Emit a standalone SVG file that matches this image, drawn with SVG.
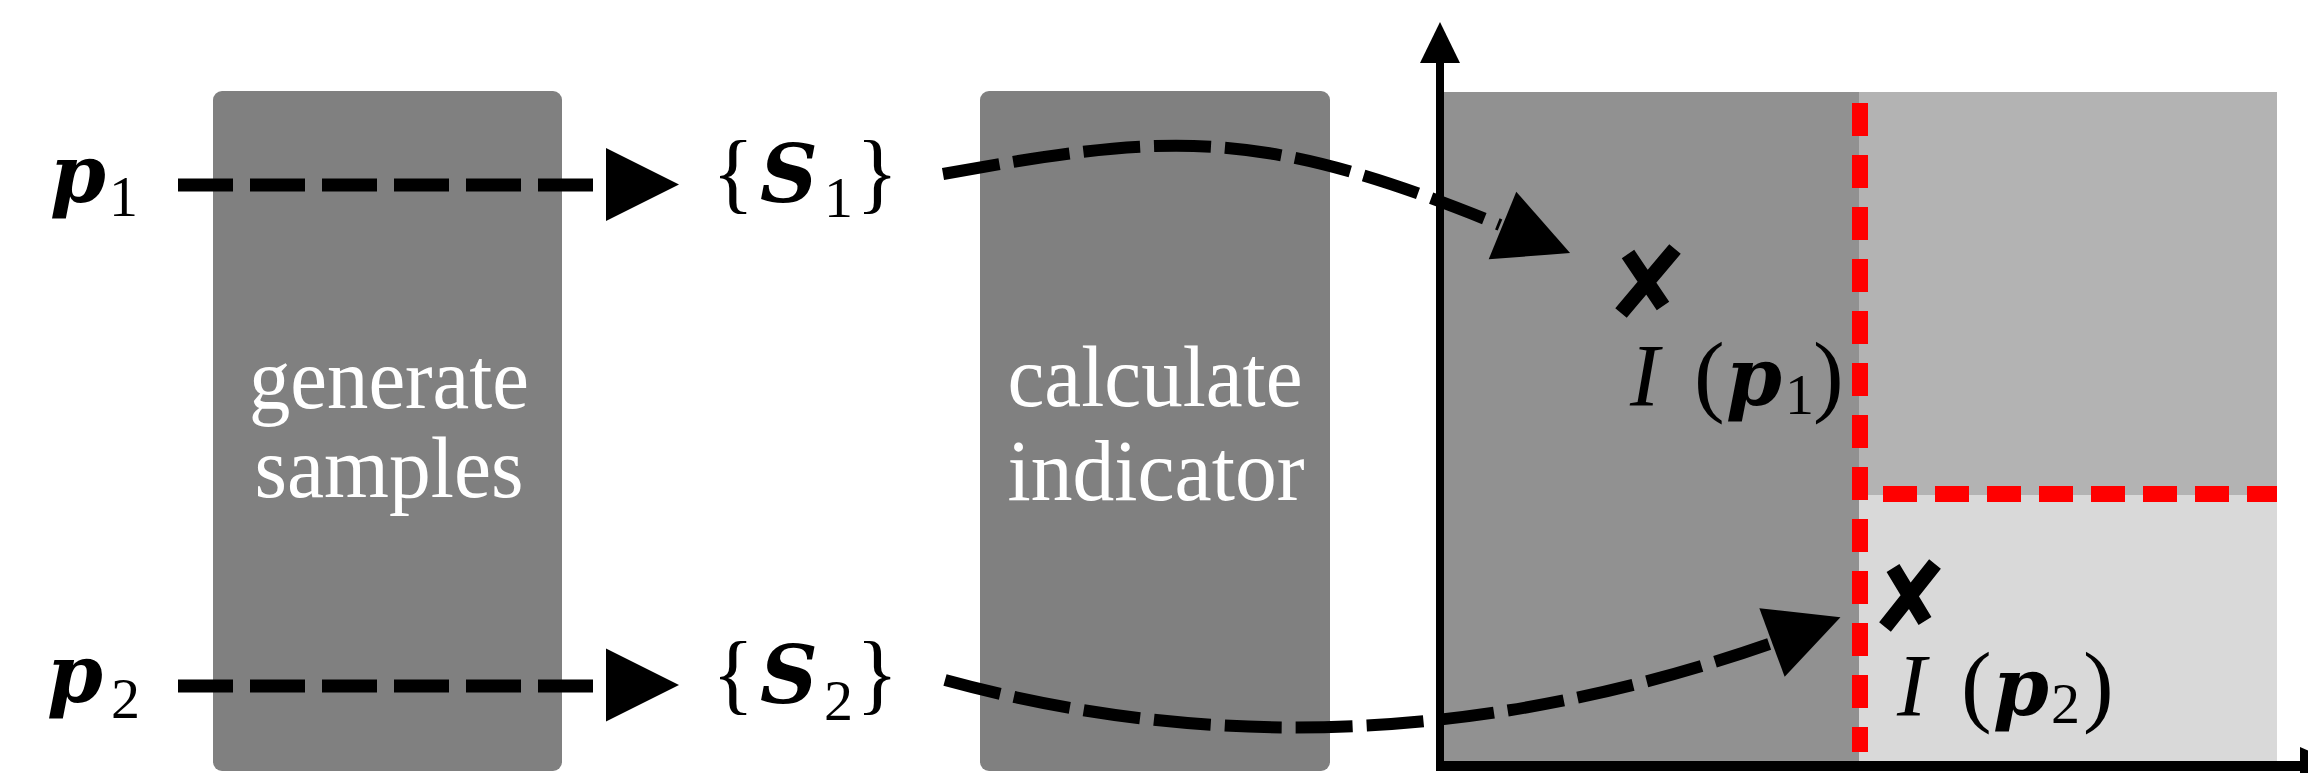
<svg xmlns="http://www.w3.org/2000/svg" xmlns:xlink="http://www.w3.org/1999/xlink" width="2308" height="773" viewBox="0 0 2308 773">
<defs>
<style>
.box{fill:#808080}
.lbl{font-family:"Liberation Serif","Times New Roman",serif;font-size:86px;fill:#ffffff;text-anchor:middle}
.m{font-family:"Liberation Serif","Times New Roman",serif;fill:#000000}
.big{font-size:88px}
.par{font-size:92px}
.bi{font-family:"DejaVu Serif","Liberation Serif",serif;font-size:80px;font-weight:bold;font-style:italic}
.it{font-size:88px;font-style:italic}
.sub{font-size:58px}
.dash{fill:none;stroke:#000;stroke-width:13;stroke-dasharray:55 17}
.cdash{fill:none;stroke:#000;stroke-width:12;stroke-dasharray:57 14}
.red{fill:none;stroke:#ff0000;stroke-width:16}
.xm{fill:none;stroke:#000;stroke-width:15;stroke-linecap:butt}
</style>
<path id="ah" d="M0,-36.5 L73,0 L0,36.5 Z" fill="#000"/>
</defs>
<rect width="2308" height="773" fill="#ffffff"/>

<g id="plot">
<rect x="1440" y="92" width="419" height="674" fill="#919191"/>
<rect x="1859" y="92" width="418" height="403" fill="#b3b3b3"/>
<rect x="1859" y="495" width="418" height="271" fill="#d9d9d9"/>
<line class="red" x1="1860" y1="103" x2="1860" y2="752" stroke-dasharray="33 19"/>
<line class="red" x1="1883" y1="494" x2="2277" y2="494" stroke-dasharray="34 18"/>
<line x1="1440" y1="60" x2="1440" y2="770" stroke="#000" stroke-width="8"/>
<polygon points="1440,22 1460,63 1420,63" fill="#000"/>
<line x1="1436" y1="766" x2="2302" y2="766" stroke="#000" stroke-width="10"/>
<polygon points="2300,747 2342,766 2300,785" fill="#000"/>
</g>

<g id="box-generate">
<rect class="box" x="213" y="91" width="349" height="680" rx="9"/>
<text class="lbl" x="389" y="408" textLength="280" lengthAdjust="spacingAndGlyphs">generate</text>
<text class="lbl" x="389" y="497" textLength="269" lengthAdjust="spacingAndGlyphs">samples</text>
</g>

<g id="box-calculate">
<rect class="box" x="980" y="91" width="350" height="680" rx="9"/>
<text class="lbl" x="1155" y="406" textLength="295" lengthAdjust="spacingAndGlyphs">calculate</text>
<text class="lbl" x="1156" y="500" textLength="297" lengthAdjust="spacingAndGlyphs">indicator</text>
</g>

<g id="p1"><text class="m"><tspan class="bi" x="50" y="202">p</tspan><tspan class="sub" x="109" y="216">1</tspan></text></g>
<g id="p2"><text class="m"><tspan class="bi" x="47" y="702">p</tspan><tspan class="sub" x="111" y="718">2</tspan></text></g>

<g id="S1"><text class="m"><tspan class="big" x="712" y="202">{</tspan><tspan class="bi" x="760" y="202">S</tspan><tspan class="sub" x="824" y="217">1</tspan><tspan class="big" x="856" y="202">}</tspan></text></g>
<g id="S2"><text class="m"><tspan class="big" x="712" y="703">{</tspan><tspan class="bi" x="760" y="703">S</tspan><tspan class="sub" x="824" y="720">2</tspan><tspan class="big" x="856" y="703">}</tspan></text></g>

<g id="I1">
<path class="xm" d="M1621,313 L1675,249 M1628,254 L1663,306"/>
<text class="m"><tspan class="it" x="1630" y="405">I</tspan><tspan class="par" x="1694" y="405">(</tspan><tspan class="bi" x="1726" y="405">p</tspan><tspan class="sub" x="1785" y="414">1</tspan><tspan class="par" x="1813" y="405">)</tspan></text>
</g>
<g id="I2">
<path class="xm" d="M1885,627 L1935,564 M1893,568 L1925,621"/>
<text class="m"><tspan class="it" x="1897" y="715">I</tspan><tspan class="par" x="1961" y="715">(</tspan><tspan class="bi" x="1993" y="715">p</tspan><tspan class="sub" x="2051" y="723">2</tspan><tspan class="par" x="2083" y="715">)</tspan></text>
</g>

<g id="connectors">
<line class="dash" x1="178" y1="185" x2="596" y2="185"/>
<use xlink:href="#ah" href="#ah" transform="translate(606,184.5)"/>
<line class="dash" x1="178" y1="686" x2="596" y2="686"/>
<use xlink:href="#ah" href="#ah" transform="translate(606,685)"/>
<path class="cdash" d="M943,174 C1168.5,133.4 1257.5,125.6 1500,225"/>
<use xlink:href="#ah" href="#ah" transform="translate(1502.5,225.5) rotate(22.2)"/>
<path class="cdash" d="M945,680 C1175,743 1453,755 1772,643"/>
<use xlink:href="#ah" href="#ah" transform="translate(1772,642.5) rotate(-20.3)"/>
</g>
</svg>
